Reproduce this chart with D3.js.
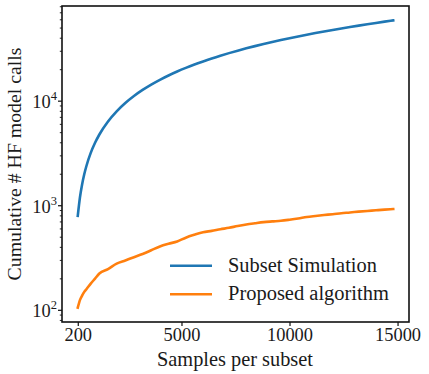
<!DOCTYPE html>
<html>
<head>
<meta charset="utf-8">
<script src="https://cdn.jsdelivr.net/npm/d3@7"></script>
<style>
  body { margin: 0; background: #fff; }
  svg text { font-family: "Liberation Serif", "DejaVu Serif", serif; fill: #1a1a1a; }
</style>
</head>
<body>
<svg class="chart-svg" width="429" height="374"></svg>
<script>
// samples per subset (x)
const samples = [200, 300, 400, 500, 600, 800, 1000, 1200, 1600, 2000, 2400, 2800, 3200, 3600,
  4000, 4400, 4800, 5200, 5600, 6000, 6400, 6800, 7200, 7600, 8000, 8400, 8800, 9200, 9600,
  10000, 10400, 10800, 11200, 11600, 12000, 12400, 12800, 13200, 13600, 14000, 14400, 14800];
// cumulative HF calls, Subset Simulation
const subsetSim = [800, 1200, 1600, 2000, 2400, 3200, 4000, 4800, 6400, 8000, 9600, 11200, 12800, 14400,
  16000, 17600, 19200, 20800, 22400, 24000, 25600, 27200, 28800, 30400, 32000, 33600, 35200, 36800, 38400,
  40000, 41600, 43200, 44800, 46400, 48000, 49600, 51200, 52800, 54400, 56000, 57600, 59200];
// cumulative HF calls, proposed algorithm
const proposed = [106, 125, 138, 150, 159, 180, 201, 225, 248, 280, 300, 322, 345, 375,
  408, 433, 455, 495, 528, 558, 575, 596, 615, 640, 662, 680, 697, 708, 718,
  735, 755, 780, 798, 815, 830, 848, 862, 878, 892, 905, 918, 930];

const xTicks = [200, 5000, 10000, 15000];
const yTicks = [2, 3, 4]; // exponents
const seriesNames = ["Subset Simulation", "Proposed algorithm"];
const colors = ["#1f77b4", "#ff7f0e"];

const margin = {left: 62, top: 6, right: 20, bottom: 52};
const width = 429, height = 374;
const svg = d3.select('svg.chart-svg');

// scale a text's font so that it spans the wanted width
function fit(sel, target) {
  sel.style('font-size', '18px');
  const len = sel.node().getComputedTextLength();
  const size = 18 * target / len;
  sel.style('font-size', size + 'px');
  return size;
}

const x = d3.scaleLinear()
    .domain([-530, 15530])
    .range([margin.left, width - margin.right]);
const y = d3.scaleLog()
    .domain([77.3, 81300])
    .range([height - margin.bottom, margin.top]);

const line = d3.line()
    .x((d, i) => x(samples[i]))
    .y(d => y(d))
    .curve(d3.curveMonotoneX);

// lines
[subsetSim, proposed].forEach((s, k) => {
  svg.append('path')
    .attr('d', line(s))
    .attr('fill', 'none')
    .attr('stroke', colors[k])
    .attr('stroke-width', 2.6)
    .attr('stroke-linecap', 'square')
    .attr('stroke-linejoin', 'round');
});

// frame
svg.append('rect')
  .attr('x', margin.left).attr('y', margin.top)
  .attr('width', width - margin.right - margin.left)
  .attr('height', height - margin.bottom - margin.top)
  .attr('fill', 'none').attr('stroke', '#111').attr('stroke-width', 1.6);

// x axis
const xAxis = svg.append('g')
  .attr('transform', `translate(0,${height - margin.bottom})`)
  .call(d3.axisBottom(x).tickValues(xTicks).tickSize(4).tickPadding(2).tickFormat(d3.format('d')));
xAxis.select('.domain').remove();
xAxis.selectAll('line').attr('stroke', '#111').attr('stroke-width', 1.2);
const xt = xAxis.selectAll('text').attr('fill', '#1a1a1a')
  .style('font-family', '"Liberation Serif", serif');
const tickSize = fit(xt.filter(d => d === 10000), 46);
xt.style('font-size', tickSize + 'px');

// y axis: minor ticks
const minor = [];
for (let e = 1; e <= 4; e++) for (let m = 2; m <= 9; m++) {
  const v = m * Math.pow(10, e);
  if (v >= y.domain()[0] && v <= y.domain()[1]) minor.push(v);
}
const gy = svg.append('g');
gy.selectAll('line.minor').data(minor).join('line')
  .attr('class', 'minor')
  .attr('x1', margin.left - 2.2).attr('x2', margin.left)
  .attr('y1', d => y(d)).attr('y2', d => y(d))
  .attr('stroke', '#111').attr('stroke-width', 0.9);
gy.selectAll('line.major').data(yTicks).join('line')
  .attr('class', 'major')
  .attr('x1', margin.left - 4).attr('x2', margin.left)
  .attr('y1', d => y(Math.pow(10, d))).attr('y2', d => y(Math.pow(10, d)))
  .attr('stroke', '#111').attr('stroke-width', 1.2);
const yl = gy.selectAll('text.tick').data(yTicks).join('text')
  .attr('class', 'tick')
  .attr('x', margin.left - 5)
  .attr('y', d => y(Math.pow(10, d)) + 7)
  .attr('text-anchor', 'end')
  .style('font-size', tickSize + 'px');
yl.append('tspan').text('10');
yl.append('tspan').attr('dy', -8).style('font-size', (tickSize * 0.68) + 'px').text(d => d);

// axis labels
const xLabel = svg.append('text')
  .attr('x', 235)
  .attr('y', 366)
  .attr('text-anchor', 'middle')
  .text('Samples per subset');
fit(xLabel, 156);
const yLabel = svg.append('text')
  .attr('transform', `translate(21,${(margin.top + height - margin.bottom) / 2}) rotate(-90)`)
  .attr('text-anchor', 'middle')
  .text('Cumulative # HF model calls');
fit(yLabel, 233);

// legend
const legend = svg.append('g');
const legendWidths = [149, 161];
seriesNames.forEach((name, k) => {
  const ly = 265.7 + k * 28.5;
  legend.append('line')
    .attr('x1', 170).attr('x2', 212)
    .attr('y1', ly).attr('y2', ly)
    .attr('stroke', colors[k]).attr('stroke-width', 2.6);
  const t = legend.append('text')
    .attr('x', 228).attr('y', ly + 6)
    .text(name);
  fit(t, legendWidths[k]);
});
</script>
</body>
</html>
